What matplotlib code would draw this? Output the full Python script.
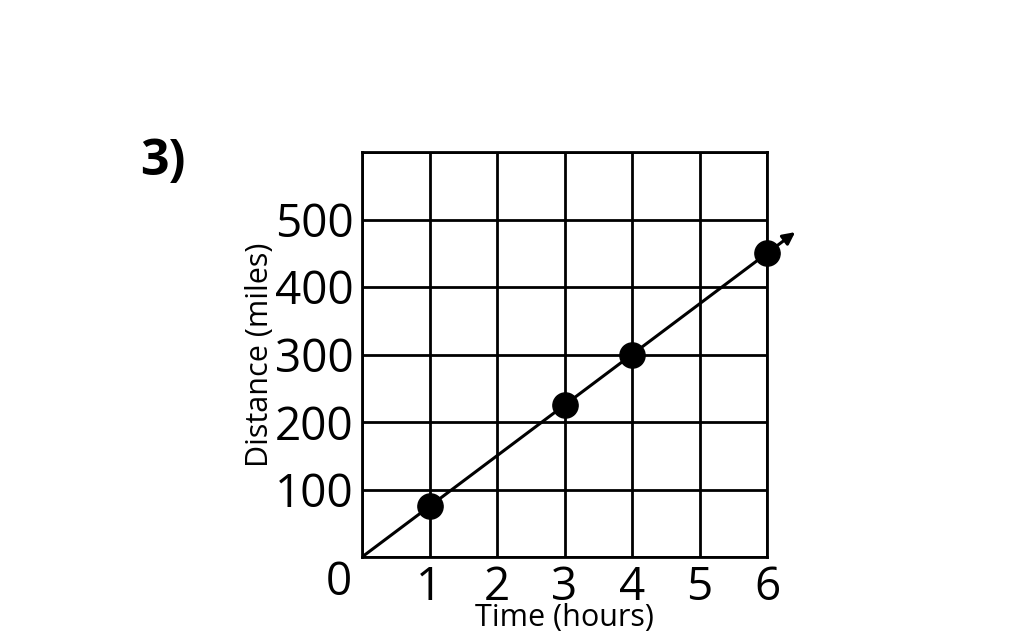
import matplotlib
matplotlib.use("Agg")
import matplotlib.pyplot as plt

x_pts = [1, 3, 4, 6]
y_pts = [75, 225, 300, 450]
line_x = [0, 6.45]
line_y = [0, 483.75]
xticks = [1, 2, 3, 4, 5, 6]
yticks = [100, 200, 300, 400, 500]

plt.rcParams['font.family'] = ['Open Sans', 'DejaVu Sans']
fig = plt.figure(figsize=(10.19, 6.41), dpi=100)
ax = fig.add_axes([362/1019, 84/641, 405/1019, 405/641])
ax.set_xlim(0, 6)
ax.set_ylim(0, 600)
ax.set_xticks(range(0, 7))
ax.set_yticks(range(0, 601, 100))
ax.grid(True, color='black', linewidth=2)
for s in ax.spines.values():
    s.set_linewidth(2)
ax.tick_params(length=0, labelsize=33, pad=6)
ax.set_xticklabels([''] + [str(t) for t in xticks])
ax.set_yticklabels([''] + [str(t) for t in yticks] + [''])
ax.text(-0.15, -5, '0', fontsize=33, ha='right', va='top', clip_on=False)
ax.annotate('', xy=(line_x[1], line_y[1]), xytext=(line_x[0], line_y[0]),
            arrowprops=dict(arrowstyle='-|>', color='black', lw=2.2, mutation_scale=18),
            annotation_clip=False)
ax.scatter(x_pts, y_pts, s=330, color='black', zorder=5, clip_on=False)
ax.set_xlabel('Time (hours)', fontsize=22, labelpad=-6)
ax.set_ylabel('Distance (miles)', fontsize=22, labelpad=0)
fig.text(163/1019, 1-162/641, '3)', fontsize=36, fontweight='bold', ha='center', va='center')
fig.savefig('out.png', dpi=100)
